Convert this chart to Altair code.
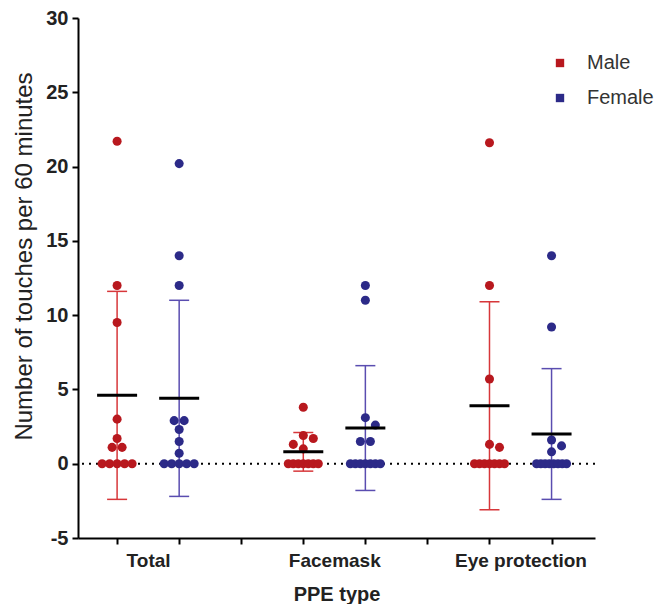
import altair as alt
import pandas as pd

# ---------------- data ----------------
categories = ["Total", "Facemask", "Eye protection"]
sexes = ["Male", "Female"]
colors = ["#B8181E", "#2C2A88"]
err_colors = ["#D7373A", "#5A4DB0"]

total_male = [21.7, 12.0, 9.5, 3.0, 1.7, 1.1, 1.1, 0, 0, 0, 0, 0]
total_female = [20.2, 14.0, 12.0, 2.9, 2.9, 2.3, 1.5, 0.7, 0, 0, 0, 0, 0]
facemask_male = [3.8, 1.9, 1.7, 1.3, 1.0, 0, 0, 0, 0, 0, 0, 0]
facemask_female = [12.0, 11.0, 3.1, 2.6, 1.5, 1.5, 0, 0, 0, 0, 0, 0, 0]
eye_male = [21.6, 12.0, 5.7, 1.3, 1.1, 0, 0, 0, 0, 0, 0, 0]
eye_female = [14.0, 9.2, 1.6, 1.2, 0.8, 0, 0, 0, 0, 0, 0, 0, 0]

mean_male = [4.6, 0.8, 3.9]
mean_female = [4.4, 2.4, 2.0]
sd_male = [7.0, 1.3, 7.0]
sd_female = [6.6, 4.2, 4.4]

y_ticks = [-5, 0, 5, 10, 15, 20, 25, 30]

# ---------------- layout helpers ----------------
W, H = 517, 520
X_DOM = [-0.63, 7.70]
Y_DOM = [-5, 30]
PX_X = W / (X_DOM[1] - X_DOM[0])
PX_Y = H / (Y_DOM[1] - Y_DOM[0])
D = 10.0  # dot diameter in px


def swarm(values):
    """Simple beeswarm: horizontal offsets (px) for each value."""
    placed = []
    out = []
    uniq = sorted(set(values), reverse=True)
    for v in uniq:
        n = values.count(v)
        if n > 1:
            sp = min(D, 30.0 / (n - 1))
            for i in range(n):
                o = (i - (n - 1) / 2) * sp
                placed.append((o, v * PX_Y))
                out.append((v, o))
        else:
            k = 0
            while True:
                cand = 0 if k == 0 else ((k + 1) // 2) * D * (1 if k % 2 else -1)
                ok = all(((cand - px) ** 2 + (v * PX_Y - py) ** 2) ** 0.5 >= D * 0.9
                         for px, py in placed)
                if ok:
                    break
                k += 1
            placed.append((cand, v * PX_Y))
            out.append((v, cand))
    return out


series = [
    ("Total", "Male", total_male), ("Total", "Female", total_female),
    ("Facemask", "Male", facemask_male), ("Facemask", "Female", facemask_female),
    ("Eye protection", "Male", eye_male), ("Eye protection", "Female", eye_female),
]

pts = []
for cat, sex, vals in series:
    base = categories.index(cat) * 3 + sexes.index(sex)
    for v, o in swarm(list(vals)):
        pts.append({"cat": cat, "sex": sex, "x": base + o / PX_X, "value": v})
pts = pd.DataFrame(pts)

CAP = 10 / PX_X
MEANW = 20 / PX_X
err = []
for i, cat in enumerate(categories):
    for j, sex in enumerate(sexes):
        m = (mean_male if j == 0 else mean_female)[i]
        s = (sd_male if j == 0 else sd_female)[i]
        base = i * 3 + j
        err.append({"cat": cat, "sex": sex, "ecol": err_colors[j],
                    "x": base, "xl": base - CAP, "xr": base + CAP,
                    "ml": base - MEANW, "mr": base + MEANW,
                    "mean": m, "lo": m - s, "hi": m + s})
err = pd.DataFrame(err)

label_expr = " : ".join(
    f"datum.value == {i * 3} ? '{c}'" for i, c in enumerate(categories)) + " : ''"

xscale = alt.Scale(domain=X_DOM, nice=False, zero=False)
yscale = alt.Scale(domain=Y_DOM, nice=False, zero=False)
xaxis = alt.Axis(values=list(range(8)), labelExpr=label_expr, labelOffset=31,
                 labelOverlap=False, title="PPE type", labelPadding=7,
                 labelFontSize=19, titlePadding=14, titleFontWeight="bold",
                 titleFontSize=20)
yaxis = alt.Axis(values=y_ticks, title="Number of touches per 60 minutes",
                 labelExpr="'' + datum.value", titleY=238,
                 titleFontWeight="normal", titlePadding=9, labelPadding=4,
                 labelFontSize=20, titleFontSize=24)


def X(field):
    return alt.X(field, type="quantitative", scale=xscale, axis=xaxis)


def Y(field):
    return alt.Y(field, type="quantitative", scale=yscale, axis=yaxis)


ecol = alt.Stroke("ecol:N", scale=None, legend=None)

zero = alt.Chart(pd.DataFrame({"z": [0]})).mark_rule(
    color="black", strokeWidth=2, strokeDash=[2, 5]).encode(y=Y("z"))

vbar = alt.Chart(err).mark_rule(strokeWidth=1.5).encode(
    x=X("x"), y=Y("lo"), y2="hi", stroke=ecol)
cap_hi = alt.Chart(err).mark_rule(strokeWidth=1.5).encode(
    x=X("xl"), x2="xr", y=Y("hi"), stroke=ecol)
cap_lo = alt.Chart(err).mark_rule(strokeWidth=1.5).encode(
    x=X("xl"), x2="xr", y=Y("lo"), stroke=ecol)

dots = alt.Chart(pts).mark_circle(size=82, opacity=1).encode(
    x=X("x"), y=Y("value"),
    color=alt.Color("sex:N", scale=alt.Scale(domain=sexes, range=colors),
                    legend=alt.Legend(title=None, orient="none", legendX=472, legendY=35,
                                      symbolType="square", symbolSize=70,
                                      labelFontSize=20, labelColor="#333",
                                      labelFontWeight="normal", rowPadding=15,
                                      labelOffset=17, symbolOpacity=1)))

means = alt.Chart(err).mark_rule(color="black", strokeWidth=3).encode(
    x=X("ml"), x2="mr", y=Y("mean"))

chart = alt.layer(zero, vbar, cap_hi, cap_lo, dots, means).properties(
    width=W, height=H, padding={"left": 4, "top": 0, "right": 0, "bottom": 0}
).configure_view(stroke=None).configure_axis(
    grid=False, domainColor="black", domainWidth=2, tickColor="black", tickWidth=2,
    tickSize=6, labelFont="Liberation Sans", titleFont="Liberation Sans",
    labelFontWeight="bold", labelColor="#222", titleColor="#222"
).configure_legend(labelFont="Liberation Sans")

chart.save("out.html", embed_options={"renderer": "svg", "actions": False})
